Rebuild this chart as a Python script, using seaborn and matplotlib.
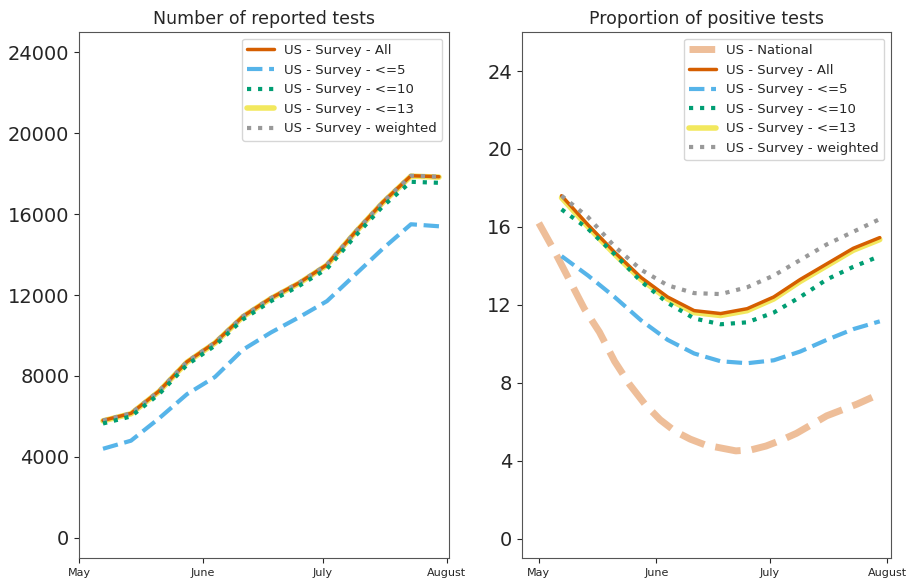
import matplotlib.pyplot as plt
import matplotlib.dates as mdates
import seaborn as sns
import pandas as pd

# weekly survey dates (Thursdays)
survey_dates = pd.date_range('2020-05-07', '2020-07-30', freq='7D')
national_dates = pd.date_range('2020-05-01', '2020-07-28', freq='4D')

# number of reported tests
tests_all = [5800, 6150, 7250, 8700, 9650, 10950, 11850, 12600, 13500, 15100, 16600, 17900, 17850]
tests_le5 = [4400, 4800, 5900, 7100, 7950, 9300, 10150, 10900, 11700, 13000, 14300, 15500, 15400]
tests_le10 = [5650, 6000, 7100, 8550, 9500, 10800, 11700, 12450, 13300, 14900, 16400, 17600, 17550]
tests_le13 = [5780, 6130, 7230, 8680, 9630, 10930, 11830, 12580, 13480, 15080, 16580, 17880, 17830]
tests_weighted = [5800, 6150, 7250, 8700, 9650, 10950, 11850, 12600, 13500, 15100, 16600, 17900, 17850]

# proportion of positive tests (%)
pos_national = [16.2, 14.8, 13.3, 11.8, 10.6, 9.1, 7.9, 6.9, 6.1, 5.5, 5.1, 4.8, 4.65, 4.5,
                4.55, 4.75, 5.05, 5.4, 5.85, 6.3, 6.6, 6.9, 7.25]
pos_all = [17.6, 16.1, 14.7, 13.4, 12.4, 11.7, 11.55, 11.8, 12.4, 13.3, 14.1, 14.9, 15.45]
pos_le5 = [14.5, 13.5, 12.4, 11.2, 10.2, 9.5, 9.1, 9.0, 9.15, 9.6, 10.2, 10.75, 11.15]
pos_le10 = [16.9, 15.9, 14.6, 13.2, 12.1, 11.3, 11.0, 11.1, 11.6, 12.4, 13.3, 13.95, 14.5]
pos_le13 = [17.5, 16.0, 14.6, 13.3, 12.3, 11.6, 11.45, 11.7, 12.3, 13.2, 14.0, 14.8, 15.35]
pos_weighted = [17.6, 16.5, 15.0, 13.8, 13.0, 12.6, 12.55, 12.9, 13.5, 14.3, 15.1, 15.75, 16.4]

sns.set_style('ticks')
plt.rcParams['font.family'] = ['DejaVu Sans']

fig = plt.figure(figsize=(9.09, 5.83), dpi=100)
ax1 = fig.add_axes([0.0869, 0.0429, 0.407, 0.902])
ax2 = fig.add_axes([0.574, 0.0429, 0.406, 0.902])

verm = '#d55e00'
blue = '#56b4e9'
green = '#009e73'
yellow = '#f0e442'
grey = '#999999'


def draw_survey(ax, a, b, c, d, e):
    sns.lineplot(x=survey_dates, y=a, ax=ax, color=verm, lw=2.5, label='US - Survey - All', zorder=4)
    sns.lineplot(x=survey_dates, y=b, ax=ax, color=blue, lw=3, ls='--', label='US - Survey - <=5', zorder=3)
    sns.lineplot(x=survey_dates, y=c, ax=ax, color=green, lw=3, ls=':', label='US - Survey - <=10', zorder=6)
    sns.lineplot(x=survey_dates, y=d, ax=ax, color=yellow, lw=4, alpha=0.85, label='US - Survey - <=13', zorder=3)
    sns.lineplot(x=survey_dates, y=e, ax=ax, color=grey, lw=3, ls=':', label='US - Survey - weighted', zorder=5)


# left panel
draw_survey(ax1, tests_all, tests_le5, tests_le10, tests_le13, tests_weighted)
ax1.set_title('Number of reported tests', fontsize=12.5)
ax1.set_ylim(-1000, 25000)
ax1.set_yticks(range(0, 24001, 4000))
ax1.set_xlim(pd.Timestamp('2020-05-01'), pd.Timestamp('2020-08-01 12:00'))

# right panel
sns.lineplot(x=national_dates, y=pos_national, ax=ax2, color=verm, alpha=0.4, lw=5, ls='--',
             label='US - National', zorder=2)
draw_survey(ax2, pos_all, pos_le5, pos_le10, pos_le13, pos_weighted)
ax2.set_title('Proportion of positive tests', fontsize=12.5)
ax2.set_ylim(-1, 26)
ax2.set_yticks(range(0, 25, 4))
ax2.set_xlim(pd.Timestamp('2020-04-26 12:00'), pd.Timestamp('2020-08-01 22:00'))

for ax in (ax1, ax2):
    ax.xaxis.set_major_locator(mdates.MonthLocator())
    ax.xaxis.set_major_formatter(mdates.DateFormatter('%B'))
    ax.tick_params(axis='x', labelsize=8)
    ax.tick_params(axis='y', labelsize=14)
    ax.set_xlabel('')
    ax.set_ylabel('')
    ax.legend(loc='upper right', fontsize=9.5)
    for s in ax.spines.values():
        s.set_color('#555555')

plt.savefig('out.png', dpi=100)
